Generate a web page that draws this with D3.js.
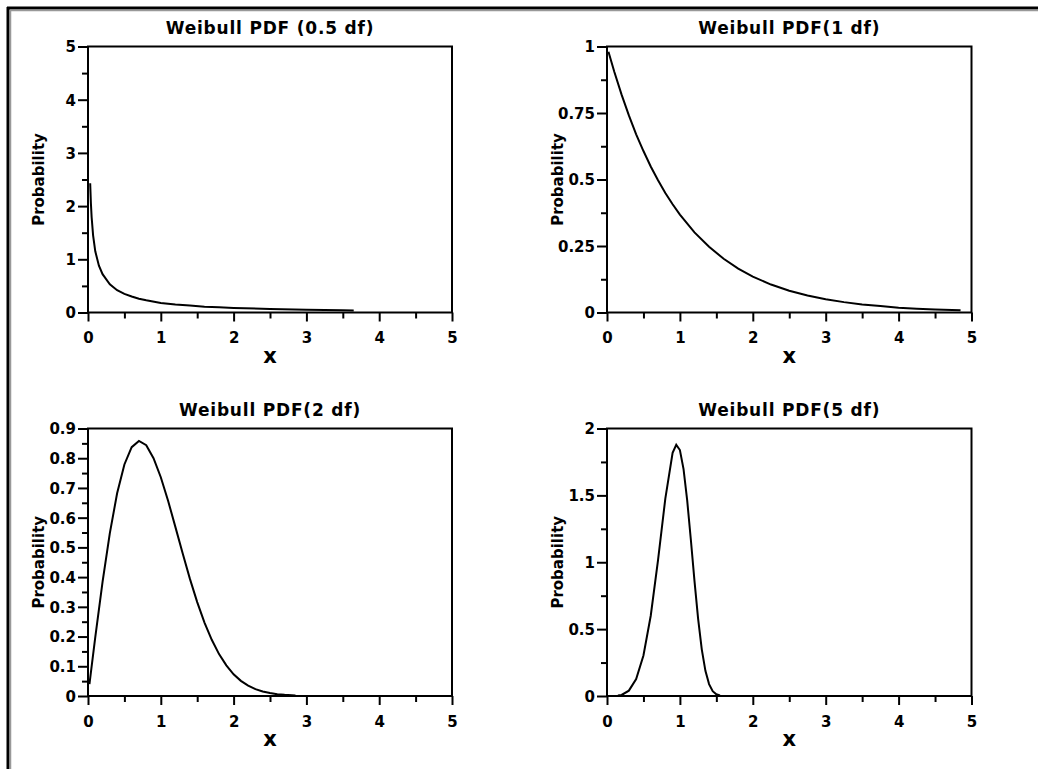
<!DOCTYPE html>
<meta charset="utf-8">
<script src="https://d3js.org/d3.v7.min.js"></script>
<style>
  body { margin: 0; background: #fff; }
  svg text { font-family: "DejaVu Sans", sans-serif; fill: #000; }
</style>
<div id="chart"></div>
<script>
// titles and axis ticks
var titles = ["Weibull PDF (0.5 df)", "Weibull PDF(1 df)", "Weibull PDF(2 df)", "Weibull PDF(5 df)"];
var xTicks = [0, 1, 2, 3, 4, 5];
var xMinor = [0.5, 1.5, 2.5, 3.5, 4.5];

var yTicks05 = [0, 1, 2, 3, 4, 5];
var yMinor05 = [0.5, 1.5, 2.5, 3.5, 4.5];
var yTicks1 = [0, 0.25, 0.5, 0.75, 1];
var yMinor1 = [0.125, 0.375, 0.625, 0.875];
var yTicks2 = [0, 0.1, 0.2, 0.3, 0.4, 0.5, 0.6, 0.7, 0.8, 0.9];
var yMinor2 = [0.05, 0.15, 0.25, 0.35, 0.45, 0.55, 0.65, 0.75, 0.85];
var yTicks5 = [0, 0.5, 1, 1.5, 2];
var yMinor5 = [0.25, 0.75, 1.25, 1.75];

// curves
var pdf05X = [0.03, 0.04, 0.05, 0.07, 0.1, 0.15, 0.2, 0.3, 0.4, 0.5, 0.6, 0.7, 0.8, 1.0, 1.2, 1.4, 1.6, 1.8, 2.0, 2.5, 3.0, 3.5, 3.65];
var pdf05Y = [2.43, 2.05, 1.79, 1.45, 1.15, 0.88, 0.72, 0.53, 0.42, 0.35, 0.30, 0.26, 0.23, 0.18, 0.15, 0.13, 0.11, 0.10, 0.086, 0.065, 0.051, 0.041, 0.039];

var pdf1X = [0.02, 0.1, 0.2, 0.3, 0.4, 0.5, 0.6, 0.7, 0.8, 0.9, 1.0, 1.2, 1.4, 1.6, 1.8, 2.0, 2.25, 2.5, 2.75, 3.0, 3.25, 3.5, 3.75, 4.0, 4.25, 4.5, 4.85];
var pdf1Y = [0.98, 0.905, 0.819, 0.741, 0.670, 0.607, 0.549, 0.497, 0.449, 0.407, 0.368, 0.301, 0.247, 0.202, 0.165, 0.135, 0.105, 0.082, 0.064, 0.050, 0.039, 0.030, 0.024, 0.018, 0.014, 0.011, 0.008];

var pdf2X = [0.02, 0.05, 0.1, 0.2, 0.3, 0.4, 0.5, 0.6, 0.7, 0.8, 0.9, 1.0, 1.1, 1.2, 1.3, 1.4, 1.5, 1.6, 1.7, 1.8, 1.9, 2.0, 2.1, 2.2, 2.3, 2.4, 2.5, 2.6, 2.7, 2.85];
var pdf2Y = [0.04, 0.10, 0.198, 0.384, 0.548, 0.682, 0.779, 0.837, 0.858, 0.844, 0.800, 0.736, 0.657, 0.569, 0.480, 0.394, 0.316, 0.247, 0.189, 0.141, 0.103, 0.073, 0.051, 0.035, 0.023, 0.015, 0.010, 0.006, 0.004, 0.002];

var pdf5X = [0.15, 0.2, 0.3, 0.4, 0.5, 0.6, 0.7, 0.8, 0.9, 0.95, 1.0, 1.05, 1.1, 1.15, 1.2, 1.25, 1.3, 1.35, 1.4, 1.45, 1.5, 1.55];
var pdf5Y = [0.003, 0.008, 0.040, 0.127, 0.303, 0.600, 1.015, 1.476, 1.818, 1.878, 1.839, 1.696, 1.462, 1.170, 0.861, 0.577, 0.349, 0.188, 0.089, 0.036, 0.013, 0.004];

var panels = [
  {title: titles[0], left: 88, right: 452, top: 46.5, bottom: 312.5, yMax: 5, yTicks: yTicks05, yMinor: yMinor05, xs: pdf05X, ys: pdf05Y},
  {title: titles[1], left: 607, right: 971.5, top: 46.5, bottom: 312.5, yMax: 1, yTicks: yTicks1, yMinor: yMinor1, xs: pdf1X, ys: pdf1Y},
  {title: titles[2], left: 88, right: 452, top: 428.5, bottom: 696, yMax: 0.9, yTicks: yTicks2, yMinor: yMinor2, xs: pdf2X, ys: pdf2Y},
  {title: titles[3], left: 607, right: 971.5, top: 428.5, bottom: 696, yMax: 2, yTicks: yTicks5, yMinor: yMinor5, xs: pdf5X, ys: pdf5Y}
];

var svg = d3.select("#chart").append("svg")
  .attr("width", 1038)
  .attr("height", 769);

// window frame, top and left edges only
svg.append("line").attr("x1", 7).attr("x2", 1038).attr("y1", 8).attr("y2", 8)
  .attr("stroke", "#000").attr("stroke-width", 3);
svg.append("line").attr("x1", 8).attr("x2", 8).attr("y1", 7).attr("y2", 769)
  .attr("stroke", "#000").attr("stroke-width", 3);
svg.append("line").attr("x1", 10).attr("x2", 1038).attr("y1", 10.5).attr("y2", 10.5)
  .attr("stroke", "#999").attr("stroke-width", 1.5);
svg.append("line").attr("x1", 10.5).attr("x2", 10.5).attr("y1", 10).attr("y2", 769)
  .attr("stroke", "#999").attr("stroke-width", 1.5);

function styleAxis(sel) {
  sel.select(".domain").remove();
  sel.selectAll(".tick line").attr("stroke", "#000").attr("stroke-width", 2);
  sel.selectAll(".tick text")
    .style("font-family", "'DejaVu Sans', sans-serif")
    .style("font-size", "15px")
    .style("font-weight", "bold")
    .attr("fill", "#000");
}

panels.forEach(function(p) {
  var x = d3.scaleLinear().domain([0, 5]).range([p.left, p.right]);
  var y = d3.scaleLinear().domain([0, p.yMax]).range([p.bottom, p.top]);
  var g = svg.append("g");

  // y axis ticks
  g.append("g").attr("transform", "translate(" + p.left + ",0)")
    .call(d3.axisLeft(y).tickValues(p.yMinor).tickSize(6).tickFormat(""))
    .call(styleAxis);
  g.append("g").attr("transform", "translate(" + p.left + ",0)")
    .call(d3.axisLeft(y).tickValues(p.yTicks).tickSize(10).tickPadding(2).tickFormat(function(d) { return String(d); }))
    .call(styleAxis)
    .selectAll(".tick text").attr("dy", "0.36em");

  // x axis ticks
  g.append("g").attr("transform", "translate(0," + p.bottom + ")")
    .call(d3.axisBottom(x).tickValues(xMinor).tickSize(6).tickFormat(""))
    .call(styleAxis);
  g.append("g").attr("transform", "translate(0," + p.bottom + ")")
    .call(d3.axisBottom(x).tickValues(xTicks).tickSize(9).tickPadding(11).tickFormat(function(d) { return String(d); }))
    .call(styleAxis);

  // plot frame
  g.append("rect")
    .attr("x", p.left).attr("y", p.top)
    .attr("width", p.right - p.left).attr("height", p.bottom - p.top)
    .attr("fill", "none").attr("stroke", "#000").attr("stroke-width", 2);

  // curve
  var pts = p.xs.map(function(v, i) { return [v, p.ys[i]]; });
  g.append("path")
    .datum(pts)
    .attr("fill", "none")
    .attr("stroke", "#000")
    .attr("stroke-width", 2)
    .attr("d", d3.line().x(function(d) { return x(d[0]); }).y(function(d) { return y(d[1]); }));

  // labels
  g.append("text")
    .attr("x", (p.left + p.right) / 2)
    .attr("y", p.top - 13)
    .attr("text-anchor", "middle")
    .style("font-size", "17px")
    .style("font-weight", "bold")
    .style("letter-spacing", "0.8px")
    .text(p.title);

  g.append("text")
    .attr("x", (p.left + p.right) / 2)
    .attr("y", p.bottom + 50)
    .attr("text-anchor", "middle")
    .style("font-size", "21px")
    .style("font-weight", "bold")
    .text("x");

  g.append("text")
    .attr("transform", "translate(" + (p.left - 44) + "," + ((p.top + p.bottom) / 2) + ") rotate(-90)")
    .attr("text-anchor", "middle")
    .style("font-size", "15px")
    .style("font-weight", "bold")
    .text("Probability");
});
</script>
